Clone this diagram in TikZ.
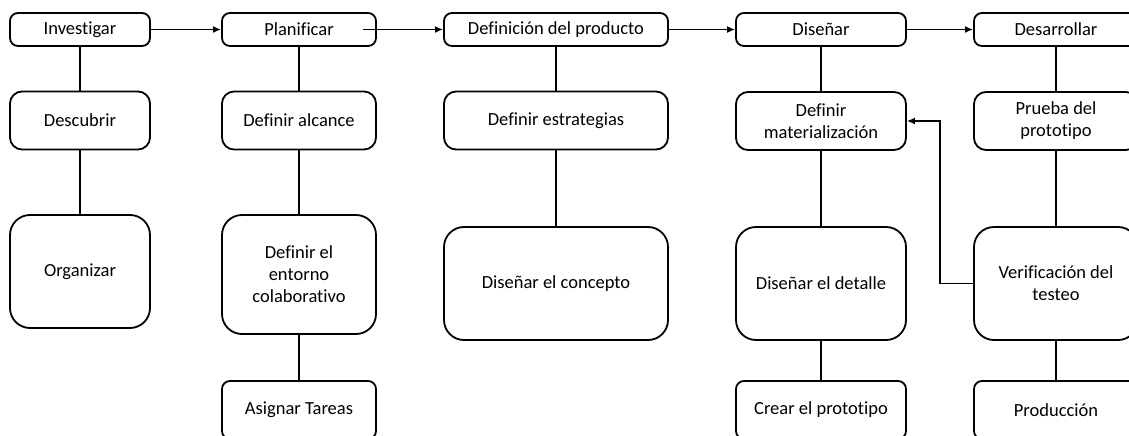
\documentclass[tikz,border=0pt]{standalone}
\usepackage{fontspec}
\setmainfont{Carlito}[Ligatures=CommonOff]
\usetikzlibrary{arrows.meta}
\begin{document}
\begin{tikzpicture}[x=1pt,y=-1pt,
  box/.style={draw=black, line width=1.8pt, align=center, inner sep=0pt,
    font=\fontsize{18.5}{22}\selectfont},
  small/.style={box, rounded corners=8pt},
  big/.style={box, rounded corners=20pt},
  link/.style={draw=black, line width=1.8pt},
  arrow/.style={link, -{Latex[length=8pt,width=7pt]}}]
\useasboundingbox (0,0) rectangle (1129,436);
\clip (0,0) rectangle (1129,436);
% column 1
\node[small, minimum width=140pt, minimum height=33pt] (inv) at (80,29.5) {Investigar};
\node[big, rounded corners=12pt, minimum width=140pt, minimum height=58pt] (des) at (80,120.5) {Descubrir};
\node[big, minimum width=140pt, minimum height=113pt] (org) at (80,271.5) {Organizar};
% column 2
\node[small, minimum width=154pt, minimum height=33pt] (pla) at (299,29.5) {Planificar};
\node[big, rounded corners=12pt, minimum width=154pt, minimum height=58pt] (alc) at (299,120.5) {Definir alcance};
\node[big, minimum width=154pt, minimum height=119pt] (ent) at (299,274.5) {Definir el\\entorno\\colaborativo};
\node[small, minimum width=154pt, minimum height=58pt] (asi) at (299,410) {Asignar Tareas};
% column 3
\node[small, minimum width=224pt, minimum height=33pt] (pro) at (556,29.5) {Definición del producto};
\node[big, rounded corners=12pt, minimum width=224pt, minimum height=58pt] (est) at (556,120.5) {Definir estrategias};
\node[big, minimum width=224pt, minimum height=113pt] (con) at (556,283.5) {Diseñar el concepto};
% column 4
\node[small, minimum width=170pt, minimum height=33pt] (dis) at (821,29.5) {Diseñar};
\node[big, rounded corners=12pt, minimum width=170pt, minimum height=58pt] (mat) at (821,121) {Definir\\materialización};
\node[big, minimum width=170pt, minimum height=113pt] (det) at (821,283.5) {Diseñar el detalle};
\node[small, minimum width=170pt, minimum height=58pt] (cre) at (821,410) {Crear el prototipo};
% column 5
\node[small, minimum width=164pt, minimum height=33pt] (dsa) at (1056,29.5) {Desarrollar};
\node[big, rounded corners=12pt, minimum width=164pt, minimum height=58pt] (pru) at (1056,121) {Prueba del\\prototipo};
\node[big, minimum width=164pt, minimum height=113pt] (ver) at (1056,283.5) {Verificación del\\testeo};
\node[small, minimum width=164pt, minimum height=58pt] (prd) at (1056,410) {Producción};
% horizontal arrows
\draw[arrow] (inv.east) -- (pla.west);
\draw[arrow] ([xshift=-14pt]pla.east) -- (pro.west);
\draw[arrow] (pro.east) -- (dis.west);
\draw[arrow] (dis.east) -- (dsa.west);
% vertical links
\draw[link] (inv) -- (des);
\draw[link] (des) -- (org);
\draw[link] (pla) -- (alc);
\draw[link] (alc) -- (ent);
\draw[link] (ent) -- (asi);
\draw[link] (pro) -- (est);
\draw[link] (est) -- (con);
\draw[link] (dis) -- (mat);
\draw[link] (mat) -- (det);
\draw[link] (det) -- (cre);
\draw[link] (dsa) -- (pru);
\draw[link] (pru) -- (ver);
\draw[link] (ver) -- (prd);
% feedback
\coordinate (fb) at (940,283.5);
\draw[arrow] (ver.west) -- (fb) |- (mat.east);
\end{tikzpicture}
\end{document}
